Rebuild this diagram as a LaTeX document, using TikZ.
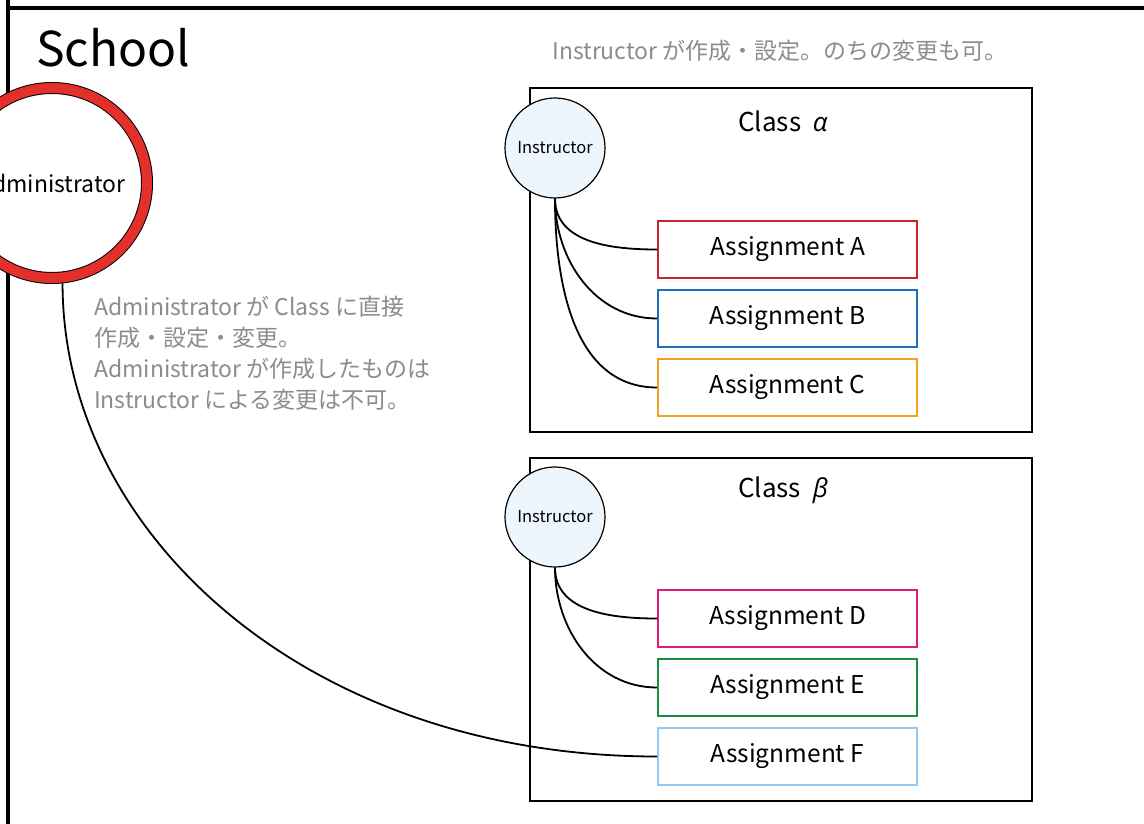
\documentclass[tikz,border=0pt]{standalone}
\usepackage{fontspec}
\setmainfont{Noto Sans CJK JP}
\newfontfamily\grk{Open Sans}
\usetikzlibrary{positioning}
\definecolor{admred}{HTML}{E4302A}
\definecolor{instfill}{HTML}{EEF6FD}
\definecolor{notegray}{HTML}{8C8C8C}
\definecolor{colA}{HTML}{C9252F}
\definecolor{colB}{HTML}{1E6FB8}
\definecolor{colC}{HTML}{F4A11E}
\definecolor{colD}{HTML}{E4197B}
\definecolor{colE}{HTML}{1C8D45}
\definecolor{colF}{HTML}{93C9F2}
\tikzset{
  admin/.style={circle,draw=black,line width=1pt,double=admred,double distance=10pt,
    fill=white,minimum size=190pt,inner sep=0pt,outer sep=6pt,font=\fontsize{23}{25}\selectfont},
  instr/.style={circle,draw,line width=1.2pt,fill=instfill,minimum size=100pt,inner sep=0pt,
    font=\fontsize{16.5}{18}\selectfont},
  klass/.style={draw,line width=2pt,inner sep=0pt},
  task/.style={draw=#1,line width=2pt,minimum width=259pt,minimum height=57pt,inner sep=0pt,
    font=\fontsize{24.5}{27}\selectfont},
  link/.style={line width=1.8pt},
  note/.style={text=notegray,font=\fontsize{23}{31}\selectfont,align=left,inner sep=0pt}
}

\begin{document}
\begin{tikzpicture}[x=1pt,y=1pt,node distance=10pt]
  \clip (0,0) rectangle (1144,823);
  \fill[white] (0,0) rectangle (1144,823);

  % school
  \draw[line width=4.5pt] (8,840) -- (8,815) -- (1170,815);
  \draw[line width=4.5pt] (8,815) -- (8,-20);
  \node(school)[anchor=base west,inner sep=0pt,font=\fontsize{48}{52}\selectfont] at (36,756) {School};

  % classes
  \node(ca)[klass,minimum width=502pt,minimum height=344pt] at (781,563) {};
  \node(cb)[klass,minimum width=502pt,minimum height=343pt] at (781,193.5) {};
  \node(ta)[font=\fontsize{26}{28}\selectfont] at (783,702) {Class\hspace{0.45em}{\grk\itshape α}};
  \node(tb)[font=\fontsize{26}{28}\selectfont] at (783,333) {Class\hspace{0.45em}{\grk\itshape β}};

  % assignments
  \node(asA)[task=colA] at (787.5,573.5) {Assignment A};
  \node(asB)[task=colB,below=of asA] {Assignment B};
  \node(asC)[task=colC,below=of asB] {Assignment C};
  \node(asD)[task=colD] at (787.5,204.5) {Assignment D};
  \node(asE)[task=colE,below=of asD] {Assignment E};
  \node(asF)[task=colF,below=of asE] {Assignment F};

  % instructors
  \node(ia)[instr] at (555,675) {Instructor};
  \node(ib)[instr] at (555,306) {Instructor};
  \draw[link]
  (ia.south) edge[out=-90,in=180] (asA.west)
  (ia.south) edge[out=-90,in=180] (asB.west)
  (ia.south) edge[out=-90,in=180] (asC.west)
  (ib.south) edge[out=-90,in=180] (asD.west)
  (ib.south) edge[out=-90,in=180] (asE.west);

  % administrator
  \node(adm)[admin] at (52,640) {Administrator};
  \draw[link] (adm.-84) .. controls +(0,-250) and +(-350,0) .. (asF.west);

  % notes
  \node(na)[note] at (780,772) {Instructor が作成・設定。のちの変更も可。};
  \node(nb)[note,anchor=north west] at (94,527)
  {Administrator が Class に直接\\作成・設定・変更。\\Administrator が作成したものは\\Instructor による変更は不可。};
\end{tikzpicture}
\end{document}
